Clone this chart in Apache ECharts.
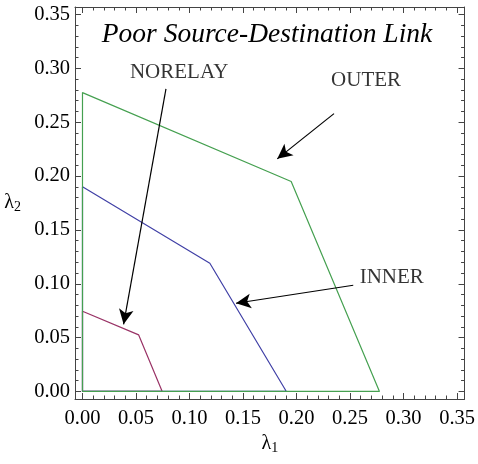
<!DOCTYPE html>
<html><head><meta charset="utf-8">
<script src="https://cdn.jsdelivr.net/npm/echarts@6/dist/echarts.min.js"></script>
<style>html,body{margin:0;padding:0;background:#fff}#c{width:478px;height:464px}</style>
</head><body><div id="c"></div>
<script>
// ---- data ----
const outer = [[0,0],[0,0.2775],[0.195,0.195],[0.2775,0],[0,0]];
const inner = [[0,0],[0,0.19],[0.119,0.119],[0.1905,0],[0,0]];
const norelay = [[0,0],[0,0.0745],[0.0525,0.0525],[0.0745,0],[0,0]];
const majorTicks = [0,0.05,0.10,0.15,0.20,0.25,0.30,0.35];
const minorTicks = [0.01,0.02,0.03,0.04,0.06,0.07,0.08,0.09,0.11,0.12,0.13,0.14,0.16,0.17,0.18,0.19,0.21,0.22,0.23,0.24,0.26,0.27,0.28,0.29,0.31,0.32,0.33,0.34];
const noteLabels = ['NORELAY','OUTER','INNER'];
const notePos = [[0.0903,0.296],[0.265,0.289],[0.289,0.106]];
const arrowFrom = [[0.078,0.281],[0.235,0.258],[0.253,0.0986]];
const arrowTo = [[0.0384,0.0623],[0.182,0.216],[0.1434,0.0819]];
const title = 'Poor Source-Destination Link';

const AMIN = -0.007, AMAX = 0.357;
const FONT = 'Liberation Serif';
const frameColor = '#444';

function axisBase(pos, show, labels, ticks, tickLen, extra, margin) {
  return Object.assign({
    type:'value', position:pos, min:AMIN, max:AMAX,
    splitLine:{show:false},
    axisLine:{show:show, onZero:false, lineStyle:{color:frameColor, width:1}},
    axisTick:{show:true, inside:true, length:tickLen, customValues:ticks, lineStyle:{color:frameColor,width:1}},
    axisLabel:{show:!!labels, customValues:labels||undefined, formatter:v=>v.toFixed(2),
      fontFamily:FONT, fontSize:20.5, color:'#000', margin:margin||6}
  }, extra||{});
}

const chart = echarts.init(document.getElementById('c'));
chart.setOption({
  animation:false,
  backgroundColor:'#fff',
  title:{text:title, left:262, textAlign:'center', top:16,
    textStyle:{fontFamily:FONT, fontStyle:'italic', fontWeight:'normal', fontSize:27.5, color:'#000'}},
  grid:{left:75, right:10, top:7, bottom:65},
  xAxis:[
    axisBase('bottom', true, majorTicks, majorTicks, 6, {name:'{a|λ}{s|1}', nameLocation:'middle', nameGap:33,
      nameTextStyle:{rich:{a:{fontFamily:FONT,fontSize:20,color:'#000'},s:{fontFamily:FONT,fontSize:14,color:'#000',padding:[9,0,0,0]}}}}, 9),
    axisBase('top', true, null, majorTicks, 6),
    axisBase('bottom', false, null, minorTicks, 3.5),
    axisBase('top', false, null, minorTicks, 3.5)
  ],
  yAxis:[
    axisBase('left', true, majorTicks, majorTicks, 6, {name:'{a|λ}{s|2}', nameLocation:'middle', nameGap:54, nameRotate:0,
      nameTextStyle:{rich:{a:{fontFamily:FONT,fontSize:20,color:'#000'},s:{fontFamily:FONT,fontSize:14,color:'#000',padding:[9,0,0,0]}}}}, 5),
    axisBase('right', true, null, majorTicks, 6),
    axisBase('left', false, null, minorTicks, 3.5),
    axisBase('right', false, null, minorTicks, 3.5)
  ],
  series:[
    {type:'line', data:norelay, showSymbol:false, lineStyle:{color:'#993366', width:1.2}, z:3},
    {type:'line', data:inner, showSymbol:false, lineStyle:{color:'#4040a6', width:1.2}, z:3},
    {type:'line', data:outer, showSymbol:false, lineStyle:{color:'#45a050', width:1.2}, z:4},
    {type:'scatter', data:notePos.map((p,i)=>({value:p, name:noteLabels[i]})), symbolSize:0, z:6,
      label:{show:true, position:'inside', formatter:'{b}', fontFamily:FONT, fontSize:21, color:'#000'}},
    {type:'line', data:[], z:5,
      markLine:{silent:true, symbol:['none','arrow'], symbolSize:[11,15], label:{show:false},
        lineStyle:{color:'#000', width:1.2, type:'solid'},
        data:arrowFrom.map((f,i)=>[{coord:f},{coord:arrowTo[i]}])}}
  ]
});
</script></body></html>
